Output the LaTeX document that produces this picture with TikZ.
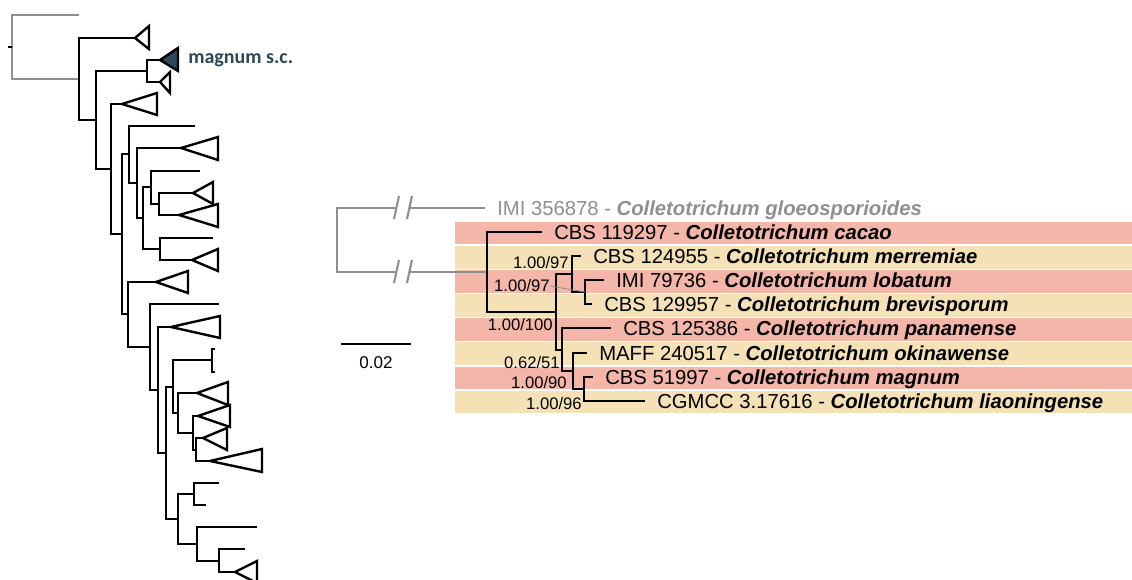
\documentclass[tikz,border=0pt]{standalone}
\usepackage{fontspec}
\setmainfont{Liberation Sans}
\newfontfamily\cladefont{Carlito}
\usetikzlibrary{positioning}

\definecolor{pinkrow}{HTML}{F4B6A8}
\definecolor{beigerow}{HTML}{F5E1B6}
\definecolor{outgray}{HTML}{8F8F8F}
\definecolor{slate}{HTML}{2F4858}

\newcommand{\isolate}[2]{#1 - \textbf{\textit{Colletotrichum #2}}}

\begin{document}
\begin{tikzpicture}[
    x=0.75pt, y=-0.75pt,
    tree/.style={line width=1.8pt},
    branch/.style={line width=2pt},
    outgroup/.style={line width=1.6pt, draw=outgray},
    leader/.style={line width=0.6pt, draw=outgray},
    taxon/.style={anchor=west, inner sep=0pt, text height=14pt, text depth=3.1pt, font=\fontsize{15.2}{17}\selectfont},
    support/.style={anchor=east, inner sep=0pt, text height=11.5pt, text depth=2.55pt, font=\fontsize{12.5}{14}\selectfont}
]
  \useasboundingbox[fill=white] (0,0) rectangle (1132,580);

  % Overview tree
  \foreach \n/\x/\y in {g0/12/47, g1/79/15, a0/79/79, a1/96/120, a2/147/71, a3/111/169,
      a4/122/234, a5/129/154, a6/137/183, a7/143/218, a8/151/187, a9/159/204, a10/160/249,
      a11/128/314, a12/150/347, a13/158/390, a14/166/453, a15/173/387, a16/178/413,
      a17/193/433, a18/196/450, a19/178/519, a20/194/494, a21/197/544, a22/219/561,
      l1/195/126, l2/200/171, l3/213/238, l4/219/304, l5/219/483, l6/206/505, l7/257/527, l8/245/549}
    \coordinate (\n) at (\x,\y);

  % collapsed clades
  \foreach \n/\x/\y/\b/\t/\u in {k1/135/38/149/26/49, k3/160/82/170/72/93, k4/122/104/157/93/115,
      k5/181/148/218/137/160, k6/193/193/213/182/204, k7/179/215/218/204/227, k8/192/260/218/249/271,
      k9/156/282/188/271/293, k10/171/327/220/316/338, k12/197/393/228/382/405,
      k13/198/416/230/405/427, k14/203/438/227/428/450, k15/210/461/262/449/472, k16/235/572/257/561/583} {
    \coordinate (\n) at (\x,\y);
    \draw[tree, fill=white] (\n) -- (\b,\t) -- (\b,\u) -- cycle;
  }
  \coordinate (k11) at (212,360);
  \draw[tree] (215,349) -- (212,349) -- (212,372) -- (215,372);
  \coordinate (k2) at (160,60);
  \draw[tree, fill=slate] (k2) -- (178,48) -- (178,71) -- cycle;
  \node[anchor=west, inner sep=0pt, text=slate, font=\cladefont\bfseries\fontsize{15}{18}\selectfont] (magnum) at (188,60) {magnum s.c.};

  \draw[outgroup] (g0) |- (g1) (g0) |- (a0);
  \draw[line width=1pt] (g0) -- ++(-4,0);
  \foreach \p/\c in {a0/k1, a0/a1, a1/a2, a1/a3, a2/k2, a2/k3, a3/k4, a3/a4, a4/a5, a4/a11,
      a5/l1, a5/a6, a6/k5, a6/a7, a7/a8, a7/a10, a8/l2, a8/a9, a9/k6, a9/k7, a10/l3, a10/k8,
      a11/k9, a11/a12, a12/l4, a12/a13, a13/k10, a13/a14, a14/a15, a14/a19, a15/k11, a15/a16,
      a16/k12, a16/a17, a17/k13, a17/a18, a18/k14, a18/k15, a19/a20, a19/a21, a20/l5, a20/l6,
      a21/l7, a21/a22, a22/l8, a22/k16}
    \draw[tree] (\p) |- (\c);

  % Rows behind the detail tree
  \foreach \i in {0,...,7} {
    \pgfmathsetmacro\rowtop{222+24.1*\i}
    \ifodd\i \def\rowc{beigerow}\else \def\rowc{pinkrow}\fi
    \fill[\rowc] (455,\rowtop) rectangle (1132,\rowtop+22.5);
  }

  % Detail tree
  \foreach \n/\x/\y in {c0/485/208, c1/542/232, c2/581/256, c3/604/280, c4/592/304, c5/611/328,
      c6/587/353, c7/593/377, c8/645/401, r0/337/240, r1/487/272, r2/556/312, r3/572/274,
      r4/585/292, r5/562/350, r6/573/371, r7/584/389}
    \coordinate (\n) at (\x,\y);

  \node[taxon, text=outgray, right=9pt of c0] (t0) {\isolate{IMI 356878}{gloeosporioides}};
  \node[taxon, right=9pt of c1] (t1) {\isolate{CBS 119297}{cacao}};
  \node[taxon, right=9pt of c2] (t2) {\isolate{CBS 124955}{merremiae}};
  \node[taxon, right=9pt of c3] (t3) {\isolate{IMI 79736}{lobatum}};
  \node[taxon, right=9pt of c4] (t4) {\isolate{CBS 129957}{brevisporum}};
  \node[taxon, right=9pt of c5] (t5) {\isolate{CBS 125386}{panamense}};
  \node[taxon, right=9pt of c6] (t6) {\isolate{MAFF 240517}{okinawense}};
  \node[taxon, right=9pt of c7] (t7) {\isolate{CBS 51997}{magnum}};
  \node[taxon, right=9pt of c8] (t8) {\isolate{CGMCC 3.17616}{liaoningense}};

  \draw[outgroup] (r0) |- (c0) (r0) |- (r1);
  \foreach \y in {208,272} {
    \fill[white] (397,\y-3) rectangle (409,\y+3);
    \draw[outgroup] (399,\y-12) -- (394,\y+11) (412,\y-12) -- (407,\y+11);
  }
  \foreach \p/\c in {r1/c1, r1/r2, r2/r3, r2/r5, r3/c2, r3/r4, r4/c3, r4/c4,
      r5/c5, r5/r6, r6/c6, r6/r7, r7/c7, r7/c8}
    \draw[branch] (\p) |- (\c);

  \node[support] (s1) at (569,263) {1.00/97};
  \node[support] (s2) at (550,286) {1.00/97};
  \node[support] (s3) at (553,325) {1.00/100};
  \node[support] (s4) at (560,363) {0.62/51};
  \node[support] (s5) at (567,383) {1.00/90};
  \node[support] (s6) at (582,404) {1.00/96};
  \draw[leader] (s2.east) -- (r4);

  % Scale bar
  \coordinate (sb0) at (341,344);
  \coordinate (sb1) at (411,344);
  \draw[line width=2.2pt] (sb0) -- (sb1);
  \node[inner sep=0pt, font=\fontsize{12.8}{14}\selectfont] (sbl) at (376,363) {0.02};
\end{tikzpicture}
\end{document}
